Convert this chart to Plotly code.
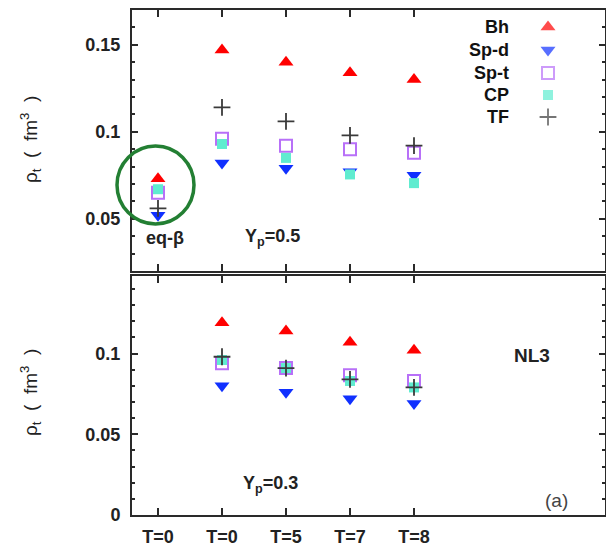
import plotly.graph_objects as go

# Categories along the x axis (numeric slots with text labels)
slots = [0, 1, 2, 3, 4]
tick_labels = ["T=0", "T=0", "T=5", "T=7", "T=8"]

# Upper panel: Yp = 0.5 (first slot is beta equilibrium)
bh_05 = [0.073, 0.147, 0.140, 0.134, 0.130]
spd_05 = [0.052, 0.082, 0.079, 0.077, 0.075]
spt_05 = [0.065, 0.096, 0.092, 0.090, 0.088]
cp_05 = [0.067, 0.093, 0.085, 0.0755, 0.0705]
tf_05 = [0.056, 0.114, 0.106, 0.098, 0.092]

# Lower panel: Yp = 0.3 (no beta-equilibrium point)
slots_03 = [1, 2, 3, 4]
bh_03 = [0.119, 0.114, 0.107, 0.102]
spd_03 = [0.080, 0.076, 0.072, 0.069]
spt_03 = [0.094, 0.091, 0.0865, 0.083]
cp_03 = [0.096, 0.091, 0.083, 0.079]
tf_03 = [0.098, 0.091, 0.084, 0.079]

series = ["Bh", "Sp-d", "Sp-t", "CP", "TF"]

FONT = "Liberation Sans, Arial, sans-serif"
styles = {
    "Bh": dict(symbol="triangle-up", size=13, color="#ff0000"),
    "Sp-d": dict(symbol="triangle-down", size=13, color="#1030ff"),
    "Sp-t": dict(symbol="square-open", size=12, color="#b870f8",
                 line=dict(width=2, color="#b870f8")),
    "CP": dict(symbol="square", size=10, color="#60ecd0"),
    "TF": dict(symbol="cross-thin-open", size=12, color="#3a3a3a",
               line=dict(width=1.8, color="#3a3a3a")),
}

fig = go.Figure()

upper = dict(zip(series, [bh_05, spd_05, spt_05, cp_05, tf_05]))
lower = dict(zip(series, [bh_03, spd_03, spt_03, cp_03, tf_03]))

for name in series:
    fig.add_trace(go.Scatter(x=slots, y=upper[name], mode="markers", name=name,
                             marker=styles[name], xaxis="x", yaxis="y",
                             showlegend=False))
for name in series:
    fig.add_trace(go.Scatter(x=slots_03, y=lower[name], mode="markers", name=name,
                             marker=styles[name], xaxis="x2", yaxis="y2",
                             showlegend=False))

# Plot area geometry (pixels)
L, R, T, B = 132, 605, 10, 515
W, H = 606, 547
UPPER_BOTTOM, LOWER_TOP = 271, 276

# Key: labels on the left, symbols on the right, drawn on a pixel-scaled overlay
key_rows = [27, 50, 73, 95, 117]
fig.add_trace(go.Scatter(
    x=[548] * len(series), y=key_rows, mode="markers",
    marker=dict(
        symbol=[styles[n]["symbol"] for n in series],
        size=[styles[n]["size"] for n in series],
        color=[styles[n]["color"] for n in series],
        line=dict(width=[0, 0, 2, 0, 1.8],
                  color=[styles[n]["color"] for n in series]),
    ),
    xaxis="x3", yaxis="y3", showlegend=False, hoverinfo="skip"))


def px(x):
    return (x - L) / (R - L)


def py(y):
    return (B - y) / (B - T)


axis_line = dict(showline=True, linecolor="#2a2a2a", linewidth=2, mirror="allticks",
                 ticks="inside", tickcolor="#2a2a2a", tickwidth=1.5,
                 showgrid=False, zeroline=False, automargin=False)
tick_font = dict(size=18, weight="bold", family=FONT, color="#222")

xcommon = dict(range=[(L - 158) / 64, (R - 158) / 64], tickvals=slots,
               ticklen=7, **axis_line)
fig.update_layout(
    width=W, height=H,
    margin=dict(l=L, r=W - R, t=T, b=H - B),
    paper_bgcolor="white", plot_bgcolor="white",
    font=dict(family=FONT, color="#222"),
    xaxis=dict(domain=[0, 1], anchor="y", showticklabels=False, **xcommon),
    yaxis=dict(domain=[py(UPPER_BOTTOM), 1], anchor="x", range=[0.02, 0.17],
               tickvals=[0.05, 0.1, 0.15], ticktext=["0.05", "0.1", "0.15"],
               ticklen=6, ticklabelstandoff=6, tickfont=tick_font,
               minor=dict(dtick=0.01, ticklen=3, ticks="inside",
                          tickcolor="#2a2a2a", showgrid=False),
               **axis_line),
    xaxis2=dict(domain=[0, 1], anchor="y2", ticktext=tick_labels,
                ticklabelstandoff=4, tickfont=tick_font, **xcommon),
    yaxis2=dict(domain=[0, py(LOWER_TOP)], anchor="x2", range=[0, 0.148],
                tickvals=[0, 0.05, 0.1], ticktext=["0", "0.05", "0.1"],
                ticklen=6, ticklabelstandoff=6, tickfont=tick_font,
                minor=dict(dtick=0.01, ticklen=3, ticks="inside",
                           tickcolor="#2a2a2a", showgrid=False),
                **axis_line),
    xaxis3=dict(anchor="y3", overlaying="x", range=[L, R], visible=False),
    yaxis3=dict(anchor="x3", overlaying="y", range=[UPPER_BOTTOM, T],
                visible=False),
)

annotations = []
for name, yrow in zip(series, key_rows):
    annotations.append(dict(x=px(511), y=py(yrow), xref="paper", yref="paper",
                            text=name, showarrow=False, xanchor="right",
                            yanchor="middle",
                            font=dict(size=18, weight="bold", family=FONT,
                                      color="#111")))

texts = [
    ("eq-β", 165, 238, "bold", 18, "#222"),
    ("Y<sub>p</sub>=0.5", 272, 238, "bold", 18, "#222"),
    ("Y<sub>p</sub>=0.3", 270, 484, "bold", 18, "#222"),
    ("NL3", 532, 356, "bold", 19, "#222"),
    ("(a)", 556, 500, "normal", 19, "#444"),
]
for txt, x, y, w, s, c in texts:
    annotations.append(dict(x=px(x), y=py(y), xref="paper", yref="paper",
                            text=txt, showarrow=False, xanchor="center",
                            yanchor="middle",
                            font=dict(size=s, weight=w, family=FONT, color=c)))

for yc in (140, 393):
    annotations.append(dict(x=px(30), y=py(yc), xref="paper", yref="paper",
                            text="ρ<sub>t</sub>  (  fm<sup>3</sup>  )",
                            textangle=-90, showarrow=False,
                            xanchor="center", yanchor="middle",
                            font=dict(size=19, family=FONT, color="#222")))

fig.update_layout(annotations=annotations)

# Highlight ring around the beta-equilibrium point
fig.add_shape(type="circle", xref="paper", yref="paper",
              x0=px(117), x1=px(194), y0=py(224), y1=py(146),
              line=dict(color="#237f33", width=3.5), layer="above")

fig.write_html("out.html")
